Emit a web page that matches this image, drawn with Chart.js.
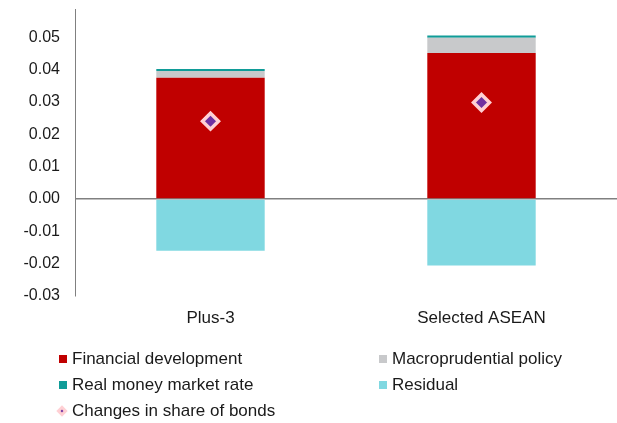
<!DOCTYPE html>
<html>
<head>
<meta charset="utf-8">
<script src="https://cdn.jsdelivr.net/npm/chart.js@4"></script>
<style>
  body { margin: 0; background: #fff; }
  #wrap { position: relative; width: 617px; height: 423px; }
  #legend {
    position: absolute; left: 0; top: 346px; width: 617px;
    font: 17px "Liberation Sans", Arial, sans-serif; color: #1a1a1a;
  }
  .item { position: absolute; height: 26px; display: flex; align-items: center; white-space: nowrap; }
  .box { width: 8px; height: 8px; margin-right: 5px; flex: none; }
  .dia { width: 8px; height: 8px; margin: 0 6px 0 -1px; flex: none; transform: rotate(45deg);
         display: flex; align-items: center; justify-content: center; }
  .dia i { width: 2px; height: 2px; display: block; }
</style>
</head>
<body>
<div id="wrap">
  <canvas id="mychart" width="617" height="423"></canvas>
  <div id="legend"></div>
</div>
<script>
const categories = ["Plus-3", "Selected ASEAN"];
const financialDev = [0.0375, 0.0452];
const macroprudential = [0.0021, 0.0047];
const realMoneyRate = [0.0006, 0.0007];
const residual = [-0.016, -0.0206];
const bondShareChange = [0.0241, 0.0299];

const font = "'Liberation Sans', Arial, sans-serif";
const ctx = document.getElementById("mychart").getContext("2d");

const chart = new Chart(ctx, {
  type: "bar",
  data: {
    labels: categories,
    datasets: [
      {
        label: "Financial development",
        data: financialDev,
        backgroundColor: "#c00000",
        order: 1,
      },
      {
        label: "Macroprudential policy",
        data: macroprudential,
        backgroundColor: "#c8c9cb",
        order: 1,
      },
      {
        label: "Real money market rate",
        data: realMoneyRate,
        backgroundColor: "#109c98",
        order: 1,
      },
      {
        label: "Residual",
        data: residual,
        backgroundColor: "#80d8e1",
        order: 1,
      },
      {
        type: "line",
        label: "Changes in share of bonds",
        data: bondShareChange,
        showLine: false,
        pointStyle: "rectRot",
        pointRadius: 8,
        pointHoverRadius: 8,
        pointBackgroundColor: "#7030a0",
        pointBorderColor: "#ffd0d4",
        pointBorderWidth: 3.5,
        order: 0,
      },
    ],
  },
  options: {
    responsive: false,
    animation: false,
    barPercentage: 0.4,
    categoryPercentage: 1,
    layout: { autoPadding: false, padding: { top: 9, right: 0, bottom: 87, left: 0 } },
    plugins: {
      legend: { display: false },
      tooltip: { enabled: false },
    },
    scales: {
      x: {
        stacked: true,
        grid: { display: false, drawTicks: false },
        border: { display: false },
        ticks: { color: "#1a1a1a", font: { family: font, size: 17 }, padding: 12 },
        afterFit: (s) => {
          s.height = 40;
          s.paddingLeft = 0;
          s.paddingRight = 0;
        },
      },
      y: {
        stacked: true,
        min: -0.03,
        max: 0.0588,
        z: 1,
        border: { display: true, color: "#808080", width: 1 },
        grid: {
          drawTicks: false,
          color: (c) => (Math.abs(c.tick.value) < 1e-9 ? "#808080" : "rgba(0,0,0,0)"),
          lineWidth: 1.5,
        },
        ticks: {
          stepSize: 0.01,
          padding: 15,
          color: "#1a1a1a",
          font: { family: font, size: 16 },
          callback: (v) => Number(v).toFixed(2),
        },
        afterBuildTicks: (s) => {
          s.ticks = s.ticks.filter((t) => t.value <= 0.0505);
        },
        afterFit: (s) => {
          s.width = 75;
          s.paddingTop = 0;
          s.paddingBottom = 0;
        },
      },
    },
  },
});

// legend in two columns, like the original
const legendPos = [
  [59, 0], [379, 0],
  [59, 26], [379, 26],
  [59, 52],
];
const legendEl = document.getElementById("legend");
chart.data.datasets.forEach((ds, i) => {
  const item = document.createElement("div");
  item.className = "item";
  item.style.left = legendPos[i][0] + "px";
  item.style.top = legendPos[i][1] + "px";
  if (ds.type === "line") {
    item.innerHTML = '<span class="dia" style="background:' + ds.pointBorderColor +
      '"><i style="background:' + ds.pointBackgroundColor + '"></i></span>';
  } else {
    item.innerHTML = '<span class="box" style="background:' + ds.backgroundColor + '"></span>';
  }
  item.appendChild(document.createTextNode(ds.label));
  legendEl.appendChild(item);
});
</script>
</body>
</html>
